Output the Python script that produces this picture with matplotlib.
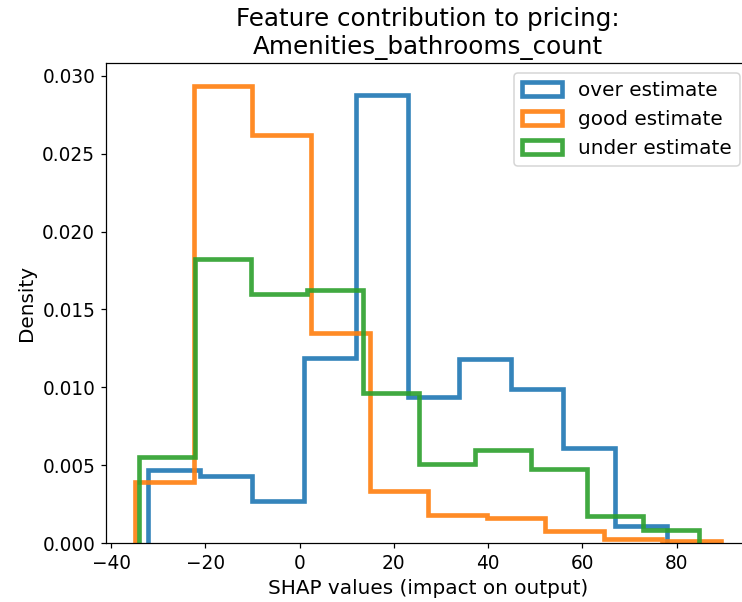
import numpy as np
import matplotlib
matplotlib.use("Agg")
import matplotlib.pyplot as plt

# Histogram bin edges (SHAP value) and densities for each estimate group
over_edges = np.linspace(-32.2, 78.0, 11)
over_density = [0.0047, 0.00433, 0.0027, 0.01186, 0.0288,
                0.00937, 0.01184, 0.00989, 0.00613, 0.00107]

good_edges = np.linspace(-34.9, 89.4, 11)
good_density = [0.0039, 0.02936, 0.02623, 0.01349, 0.00335,
                0.0018, 0.00159, 0.00079, 0.00026, 0.00015]

under_edges = np.linspace(-34.2, 84.7, 11)
under_density = [0.00555, 0.01826, 0.016, 0.01628, 0.00965,
                 0.00506, 0.00598, 0.00474, 0.00176, 0.00086]

groups = ["over estimate", "good estimate", "under estimate"]
colors = ["tab:blue", "tab:orange", "tab:green"]

plt.rcParams["font.size"] = 12

fig = plt.figure(figsize=(742 / 111, 602 / 111), dpi=111)
ax = fig.add_axes([0.1429, 0.098, 0.868, 0.7973])

for edges, dens, label, color in zip(
    [over_edges, good_edges, under_edges],
    [over_density, good_density, under_density],
    groups,
    colors,
):
    ax.hist(edges[:-1], bins=edges, weights=dens, histtype="step",
            linewidth=3, alpha=0.9, color=color, label=label)

ax.set_title("Feature contribution to pricing:\nAmenities_bathrooms_count", fontsize=16)
ax.set_xlabel("SHAP values (impact on output)", fontsize=13)
ax.set_ylabel("Density", fontsize=13)
ax.set_xticks([-40, -20, 0, 20, 40, 60, 80])
ax.legend(loc="upper right", fontsize=13)

fig.savefig("out.png", dpi=111)
